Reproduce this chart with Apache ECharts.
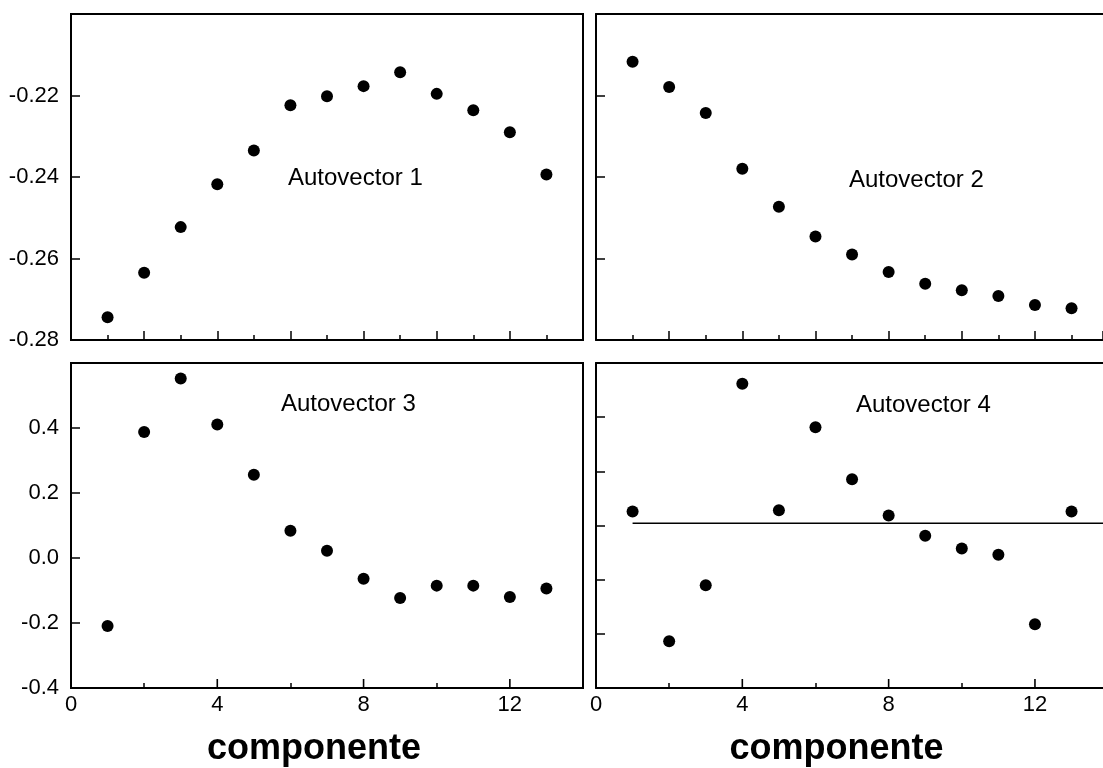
<!DOCTYPE html>
<html>
<head>
<meta charset="utf-8">
<script src="https://cdn.jsdelivr.net/npm/echarts@6/dist/echarts.min.js"></script>
<style>
html,body{margin:0;padding:0;background:#fff;}
#chart{width:1103px;height:768px;}
</style>
</head>
<body>
<div id="chart"></div>
<script>
// ---- data ----
const components = [1, 2, 3, 4, 5, 6, 7, 8, 9, 10, 11, 12, 13];
const autovector1 = [-0.2744, -0.2635, -0.2523, -0.2418, -0.2335, -0.2224, -0.2202, -0.2177, -0.2143, -0.2196, -0.2236, -0.2290, -0.2394];
const autovector2 = [-0.2117, -0.2179, -0.2243, -0.2380, -0.2473, -0.2546, -0.2590, -0.2633, -0.2662, -0.2678, -0.2692, -0.2714, -0.2722];
const autovector3 = [-0.209, 0.388, 0.552, 0.411, 0.256, 0.084, 0.022, -0.064, -0.123, -0.085, -0.085, -0.120, -0.094];
const autovector4 = [0.052, -0.427, -0.221, 0.523, 0.056, 0.363, 0.171, 0.037, -0.038, -0.085, -0.108, -0.365, 0.052];
const refLineX = [1, 14];
const refLineY = [0.008, 0.008];
const panelTitles = ['Autovector 1', 'Autovector 2', 'Autovector 3', 'Autovector 4'];
const xLabel = 'componente';
const majorTicksBottom = [4, 8, 12];
const minorTicksBottom = [2, 6, 10];
const yMinBottomLeft = -0.4;
const yMinBottomRight = -0.6;
// x extent of each panel column (right column is cut by the picture edge)
const xMaxLeft = 14;
const xMaxRight = 13.86;

const FONT = "'Liberation Sans', Arial, sans-serif";
const pairs = (xs, ys) => xs.map((x, i) => [x, ys[i]]);

const grids = [
  {left: 71, top: 14, width: 512, height: 326, show: true},
  {left: 596, top: 14, width: 507, height: 326, show: false},
  {left: 71, top: 363, width: 512, height: 326, show: true},
  {left: 596, top: 363, width: 507, height: 326, show: false}
].map(g => Object.assign({borderColor: '#000', borderWidth: 2, backgroundColor: 'transparent'}, g));

function frameLine() { return {show: true, onZero: false, lineStyle: {color: '#000', width: 2}}; }
function noLine() { return {show: false, onZero: false}; }
function tick(len) { return {show: true, inside: true, length: len, lineStyle: {color: '#000', width: 1.5}}; }

function tickAxis(gi, max, interval, len, withLine) {
  return {
    type: 'value', gridIndex: gi, position: 'bottom', min: 0, max: max, interval: interval,
    axisLine: withLine ? frameLine() : noLine(), splitLine: {show: false}, axisLabel: {show: false}, axisTick: tick(len)
  };
}
function bottomAxis(gi, max, withLine) {
  const t = tick(5);
  t.customValues = minorTicksBottom;
  return {
    type: 'value', gridIndex: gi, position: 'bottom', min: 0, max: max, interval: 4,
    axisLine: withLine ? frameLine() : noLine(), splitLine: {show: false}, axisTick: t,
    axisLabel: {show: true, showMaxLabel: false, margin: 6, color: '#000', fontFamily: FONT, fontSize: 22},
    name: xLabel, nameLocation: 'middle', nameGap: 43,
    nameTextStyle: {color: '#000', fontFamily: FONT, fontWeight: 'bold', fontSize: 36, padding: [0, 26, 0, 0]}
  };
}
function frameAxisX(gi, max) {
  return {type: 'value', gridIndex: gi, position: 'top', min: 0, max: max,
    axisLine: frameLine(), axisTick: {show: false}, axisLabel: {show: false}, splitLine: {show: false}};
}
function yAxis(gi, min, max, interval, showLabels, digits, withLine) {
  return {
    type: 'value', gridIndex: gi, min: min, max: max, interval: interval, position: 'left',
    axisLine: withLine ? frameLine() : noLine(), splitLine: {show: false},
    axisLabel: {show: showLabels, showMaxLabel: false, margin: 12, color: '#000', fontFamily: FONT, fontSize: 22,
      formatter: v => v.toFixed(digits)},
    axisTick: tick(9)
  };
}

const xAxes = [
  // main axes (series use 0..3)
  tickAxis(0, xMaxLeft, 2, 9, false),
  tickAxis(1, xMaxRight, 2, 9, true),
  bottomAxis(2, xMaxLeft, false),
  bottomAxis(3, xMaxRight, true),
  // minor ticks of the top row
  tickAxis(0, xMaxLeft, 1, 5, false),
  tickAxis(1, xMaxRight, 1, 5, false),
  // top frame lines for right column
  frameAxisX(1, xMaxRight),
  frameAxisX(3, xMaxRight)
];
const yAxes = [
  yAxis(0, -0.28, -0.20, 0.02, true, 2, false),
  yAxis(1, -0.28, -0.20, 0.02, false, 2, true),
  yAxis(2, yMinBottomLeft, 0.6, 0.2, true, 1, false),
  yAxis(3, yMinBottomRight, 0.6, 0.2, false, 1, true)
];

// long ticks of the bottom row drawn as thin bars standing on the bottom edge
function longTicks(axisIdx, yMin) {
  return {type: 'scatter', xAxisIndex: axisIdx, yAxisIndex: axisIdx, silent: true, clip: false,
    data: majorTicksBottom.map(v => [v, yMin]),
    symbol: 'rect', symbolSize: [1.6, 9], symbolOffset: [0, -4.5],
    itemStyle: {color: '#000', opacity: 1}, z: 5};
}

const dot = {color: '#000', opacity: 1};
const series = [
  {type: 'scatter', xAxisIndex: 0, yAxisIndex: 0, data: pairs(components, autovector1), symbolSize: 12, itemStyle: dot},
  {type: 'scatter', xAxisIndex: 1, yAxisIndex: 1, data: pairs(components, autovector2), symbolSize: 12, itemStyle: dot},
  {type: 'scatter', xAxisIndex: 2, yAxisIndex: 2, data: pairs(components, autovector3), symbolSize: 12, itemStyle: dot},
  {type: 'line', xAxisIndex: 3, yAxisIndex: 3, data: pairs(refLineX, refLineY), symbol: 'none',
    lineStyle: {color: '#000', width: 1.5}, silent: true},
  {type: 'scatter', xAxisIndex: 3, yAxisIndex: 3, data: pairs(components, autovector4), symbolSize: 12, itemStyle: dot},
  longTicks(2, yMinBottomLeft),
  longTicks(3, yMinBottomRight)
];

const titlePos = [[288, 166], [849, 168], [281, 392], [856, 393]];
const graphics = panelTitles.map((t, i) => ({
  type: 'text', left: titlePos[i][0], top: titlePos[i][1],
  style: {text: t, fill: '#000', font: '24px ' + FONT}
}));

const chart = echarts.init(document.getElementById('chart'), null, {renderer: 'canvas'});
chart.setOption({
  backgroundColor: '#fff',
  animation: false,
  grid: grids,
  xAxis: xAxes,
  yAxis: yAxes,
  series: series,
  graphic: graphics
});
</script>
</body>
</html>
